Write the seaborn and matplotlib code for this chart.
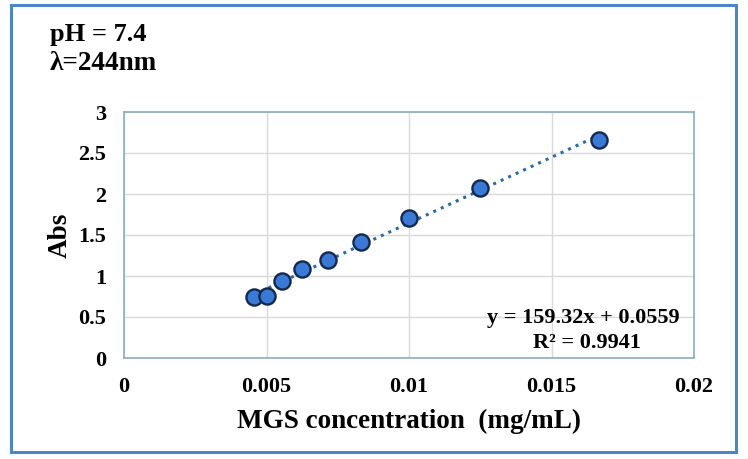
import matplotlib
matplotlib.use("Agg")
import matplotlib.pyplot as plt
import seaborn as sns
import pandas as pd
from matplotlib.patches import Rectangle

conc = [0.004545, 0.005, 0.005556, 0.00625, 0.007143, 0.008333, 0.01, 0.0125, 0.016667]
absorb = [0.74, 0.756, 0.943, 1.08, 1.195, 1.418, 1.71, 2.07, 2.655]
x_ticks = [0, 0.005, 0.01, 0.015, 0.02]
x_labels = ["0", "0.005", "0.01", "0.015", "0.02"]
y_ticks = [0, 0.5, 1, 1.5, 2, 2.5, 3]
y_labels = ["0", "0.5", "1", "1.5", "2", "2.5", "3"]

df = pd.DataFrame({"conc": conc, "abs": absorb})

sns.set_theme(style="white")
plt.rcParams["font.family"] = ["Liberation Serif", "DejaVu Serif"]
plt.rcParams["font.weight"] = "bold"
plt.rcParams["text.color"] = "black"
plt.rcParams["axes.labelcolor"] = "black"
plt.rcParams["xtick.color"] = "black"
plt.rcParams["ytick.color"] = "black"

fig = plt.figure(figsize=(7.48, 4.59), dpi=100)
W, H = 748, 459
ax = fig.add_axes([124 / W, 1 - 358 / H, (694 - 124) / W, (358 - 112) / H])

sns.regplot(data=df, x="conc", y="abs", ax=ax, ci=None, truncate=True,
            scatter_kws=dict(s=135, color="#3a7ad6", edgecolor="#14294d", linewidths=1.7, zorder=3, alpha=1),
            line_kws=dict(color="#2f6a9e", linestyle=(0, (1, 1.7)), linewidth=2.2, zorder=2))

ax.set_xlim(0, 0.02)
ax.set_ylim(0, 3)
ax.set_xticks(x_ticks)
ax.set_xticklabels(x_labels)
ax.set_yticks(y_ticks)
ax.set_yticklabels(y_labels)
ax.tick_params(axis="x", labelsize=16, length=0, pad=14)
ax.tick_params(axis="y", labelsize=16, length=0, pad=13)
for lab in ax.get_xticklabels() + ax.get_yticklabels():
    lab.set_fontweight("bold")
ax.grid(True, color="#d9d9d9", linewidth=1)
for s in ax.spines.values():
    s.set_color("#8aafbd")
    s.set_linewidth(1.2)
ax.set_xlabel("MGS concentration  (mg/mL)", fontsize=19.5, fontweight="bold", labelpad=8)
ax.set_ylabel("Abs", fontsize=19.5, fontweight="bold", labelpad=4)

ax.text((680 - 124) / 570, (358 - 318) / 246, "y = 159.32x + 0.0559", transform=ax.transAxes,
        ha="right", va="center", fontsize=16, fontweight="bold")
ax.text((641 - 124) / 570, (358 - 343) / 246, "R\u00b2 = 0.9941", transform=ax.transAxes,
        ha="right", va="center", fontsize=16, fontweight="bold")

fig.text(50 / W, 1 - 34 / H, "pH = 7.4", fontsize=19, fontweight="bold", ha="left", va="center")
fig.text(50 / W, 1 - 64 / H, "\u03bb=244nm", fontsize=19.5, fontweight="bold", ha="left", va="center")

fig.patches.append(Rectangle((11 / W, 1 - 452 / H), (736 - 11) / W, (452 - 5) / H,
                             transform=fig.transFigure, fill=False, edgecolor="#4d86c6",
                             linewidth=2.2))

fig.savefig("out.png", dpi=100, facecolor="white")
